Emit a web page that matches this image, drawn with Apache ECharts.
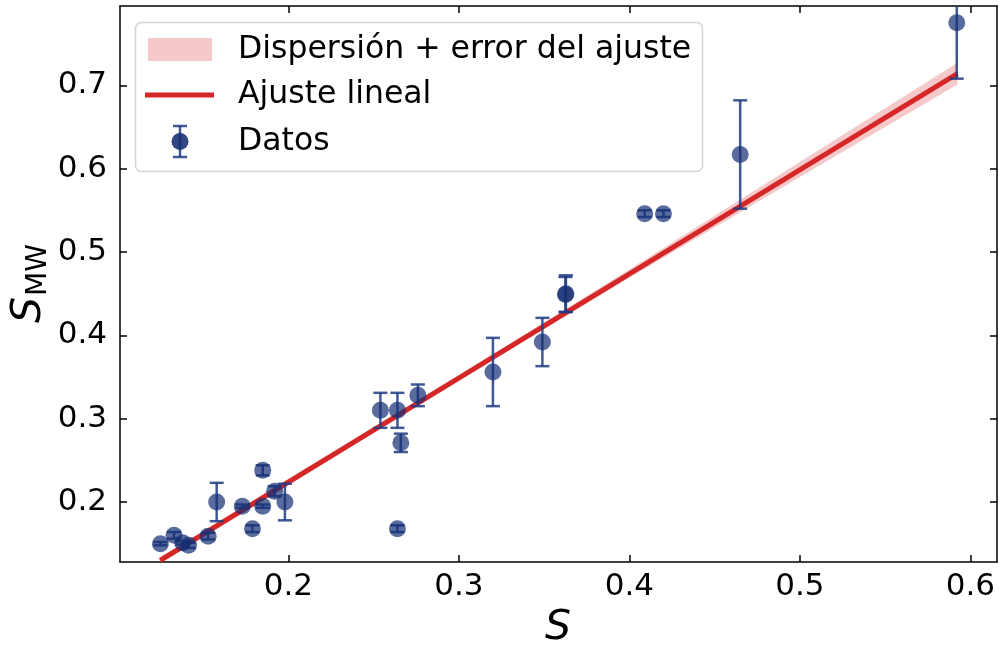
<!DOCTYPE html>
<html>
<head>
<meta charset="utf-8">
<script src="https://cdn.jsdelivr.net/npm/echarts@6/dist/echarts.min.js"></script>
<style>
  html, body { margin: 0; padding: 0; background: #fff; }
  #chart { width: 999px; height: 651px; }
</style>
</head>
<body>
<div id="chart"></div>
<script>
// Measured points: S, S_MW and the S_MW uncertainty
const sVals   = [0.125, 0.133, 0.138, 0.1415, 0.153, 0.158, 0.173, 0.179, 0.185, 0.185, 0.192, 0.198,
                 0.254, 0.264, 0.266, 0.276, 0.264, 0.320, 0.349, 0.3625, 0.3628, 0.409, 0.420, 0.465, 0.592];
const smwVals = [0.150, 0.160, 0.151, 0.148, 0.159, 0.200, 0.195, 0.168, 0.238, 0.195, 0.213, 0.200,
                 0.310, 0.310, 0.271, 0.328, 0.168, 0.356, 0.392, 0.449, 0.450, 0.546, 0.546, 0.617, 0.775];
const smwErr  = [0.002, 0.004, 0.002, 0.003, 0.004, 0.023, 0.002, 0.004, 0.006, 0.002, 0.006, 0.022,
                 0.021, 0.021, 0.011, 0.013, 0.004, 0.041, 0.029, 0.021, 0.022, 0.004, 0.004, 0.065, 0.067];

// Linear fit endpoints
const fitX = [0.1249, 0.5924];
const fitY = [0.130, 0.714];

// Scatter + fit-error band
const bandX    = [0.1249, 0.200, 0.300, 0.400, 0.500, 0.5924];
const bandLow  = [0.126, 0.220, 0.346, 0.469, 0.590, 0.701];
const bandHigh = [0.134, 0.228, 0.352, 0.479, 0.608, 0.727];

// Tick labels
const xTicks = [0.2, 0.3, 0.4, 0.5, 0.6];
const yTicks = [0.2, 0.3, 0.4, 0.5, 0.6, 0.7];

const xRange = [0.1013, 0.6156];
const yRange = [0.128, 0.7952];

const legendNames = ['Dispersión + error del ajuste', 'Ajuste lineal', 'Datos'];

const FONT = 'DejaVu Sans';
const NAVY = 'rgba(20,45,115,0.88)';
const BAR = 'rgba(30,60,130,0.85)';
const RED = '#d62728';
const PINK = 'rgba(214,39,40,0.25)';
const LEG_FONT = '31.5px "DejaVu Sans"';

const chart = echarts.init(document.getElementById('chart'), null, { renderer: 'canvas' });

function axisCommon(extra) {
  return Object.assign({
    type: 'value',
    axisLine: { show: true, onZero: false, lineStyle: { color: '#000', width: 1.5 } },
    axisTick: { show: true, inside: true, length: 7, lineStyle: { color: '#000', width: 1.5 } },
    splitLine: { show: false }
  }, extra);
}

const points = sVals.map((s, i) => [s, smwVals[i], smwErr[i]]);

const option = {
  animation: false,
  backgroundColor: '#fff',
  grid: { left: 120, right: 2, top: 6, bottom: 89, containLabel: false },
  xAxis: [
    axisCommon({
      min: xRange[0], max: xRange[1], position: 'bottom',
      axisTick: { show: true, inside: true, length: 7, customValues: xTicks, lineStyle: { color: '#000', width: 1.5 } },
      axisLabel: { customValues: xTicks, fontFamily: FONT, fontSize: 31, color: '#000', margin: 9,
                   formatter: v => String(Math.round(v * 10) / 10) }
    }),
    axisCommon({
      min: xRange[0], max: xRange[1], position: 'top',
      axisTick: { show: true, inside: true, length: 7, customValues: xTicks, lineStyle: { color: '#000', width: 1.5 } },
      axisLabel: { show: false }
    })
  ],
  yAxis: [
    axisCommon({
      min: yRange[0], max: yRange[1], position: 'left',
      axisTick: { show: true, inside: true, length: 7, customValues: yTicks, lineStyle: { color: '#000', width: 1.5 } },
      axisLabel: { customValues: yTicks, fontFamily: FONT, fontSize: 31, color: '#000', margin: 13,
                   formatter: v => String(Math.round(v * 10) / 10) }
    }),
    axisCommon({
      min: yRange[0], max: yRange[1], position: 'right',
      axisTick: { show: true, inside: true, length: 7, customValues: yTicks, lineStyle: { color: '#000', width: 1.5 } },
      axisLabel: { show: false }
    })
  ],
  series: [
    {
      name: legendNames[0],
      type: 'custom',
      clip: true,
      z: 1,
      data: [0],
      renderItem: function (params, api) {
        const pts = [];
        for (let i = 0; i < bandX.length; i++) pts.push(api.coord([bandX[i], bandHigh[i]]));
        for (let i = bandX.length - 1; i >= 0; i--) pts.push(api.coord([bandX[i], bandLow[i]]));
        return { type: 'polygon', shape: { points: pts }, style: { fill: PINK } };
      }
    },
    {
      name: legendNames[1],
      type: 'line',
      z: 2,
      showSymbol: false,
      symbol: 'none',
      data: fitX.map((x, i) => [x, fitY[i]]),
      lineStyle: { color: RED, width: 5 }
    },
    {
      name: legendNames[2] + ' (barras)',
      type: 'custom',
      clip: true,
      z: 3,
      data: points,
      renderItem: function (params, api) {
        const x = api.value(0), y = api.value(1), e = api.value(2);
        const top = api.coord([x, y + e]);
        const bot = api.coord([x, y - e]);
        const cap = 7;
        const st = { stroke: BAR, lineWidth: 2.5 };
        return {
          type: 'group',
          children: [
            { type: 'line', shape: { x1: top[0], y1: top[1], x2: bot[0], y2: bot[1] }, style: st },
            { type: 'line', shape: { x1: top[0] - cap, y1: top[1], x2: top[0] + cap, y2: top[1] }, style: st },
            { type: 'line', shape: { x1: bot[0] - cap, y1: bot[1], x2: bot[0] + cap, y2: bot[1] }, style: st }
          ]
        };
      }
    },
    {
      name: legendNames[2],
      type: 'scatter',
      z: 4,
      symbol: 'circle',
      symbolSize: 17,
      data: points.map(p => [p[0], p[1]]),
      itemStyle: { color: NAVY }
    }
  ],
  graphic: [
    // legend frame
    { type: 'rect', z: 100, shape: { x: 135.5, y: 22.5, width: 567, height: 149, r: 6 },
      style: { fill: 'rgba(255,255,255,0.85)', stroke: '#d4d4d4', lineWidth: 1.5 } },
    { type: 'rect', z: 101, shape: { x: 148, y: 38, width: 64, height: 23 }, style: { fill: PINK } },
    { type: 'line', z: 101, shape: { x1: 145, y1: 95, x2: 214, y2: 95 }, style: { stroke: RED, lineWidth: 5 } },
    { type: 'line', z: 101, shape: { x1: 180, y1: 126, x2: 180, y2: 157 }, style: { stroke: BAR, lineWidth: 2.5 } },
    { type: 'line', z: 101, shape: { x1: 173, y1: 126, x2: 187, y2: 126 }, style: { stroke: BAR, lineWidth: 2.5 } },
    { type: 'line', z: 101, shape: { x1: 173, y1: 157, x2: 187, y2: 157 }, style: { stroke: BAR, lineWidth: 2.5 } },
    { type: 'circle', z: 102, shape: { cx: 180, cy: 141.5, r: 8.5 }, style: { fill: NAVY } },
    { type: 'text', z: 101, x: 238, y: 49.5, style: { text: legendNames[0], font: LEG_FONT, fill: '#000', verticalAlign: 'middle' } },
    { type: 'text', z: 101, x: 238, y: 95, style: { text: legendNames[1], font: LEG_FONT, fill: '#000', verticalAlign: 'middle' } },
    { type: 'text', z: 101, x: 238, y: 141.5, style: { text: legendNames[2], font: LEG_FONT, fill: '#000', verticalAlign: 'middle' } },
    // axis titles
    { type: 'text', x: 558, y: 628, style: { text: 'S', font: 'italic 41px "DejaVu Sans"', fill: '#000', align: 'center', verticalAlign: 'middle' } },
    { type: 'group', x: 29, y: 283, rotation: Math.PI / 2, children: [
      { type: 'text', x: -40, y: 0, style: { text: 'S', font: 'italic 41px "DejaVu Sans"', fill: '#000', align: 'left', verticalAlign: 'middle' } },
      { type: 'text', x: -13, y: 10, style: { text: 'MW', font: '28px "DejaVu Sans"', fill: '#000', align: 'left', verticalAlign: 'middle' } }
    ] }
  ]
};

chart.setOption(option);
</script>
</body>
</html>
